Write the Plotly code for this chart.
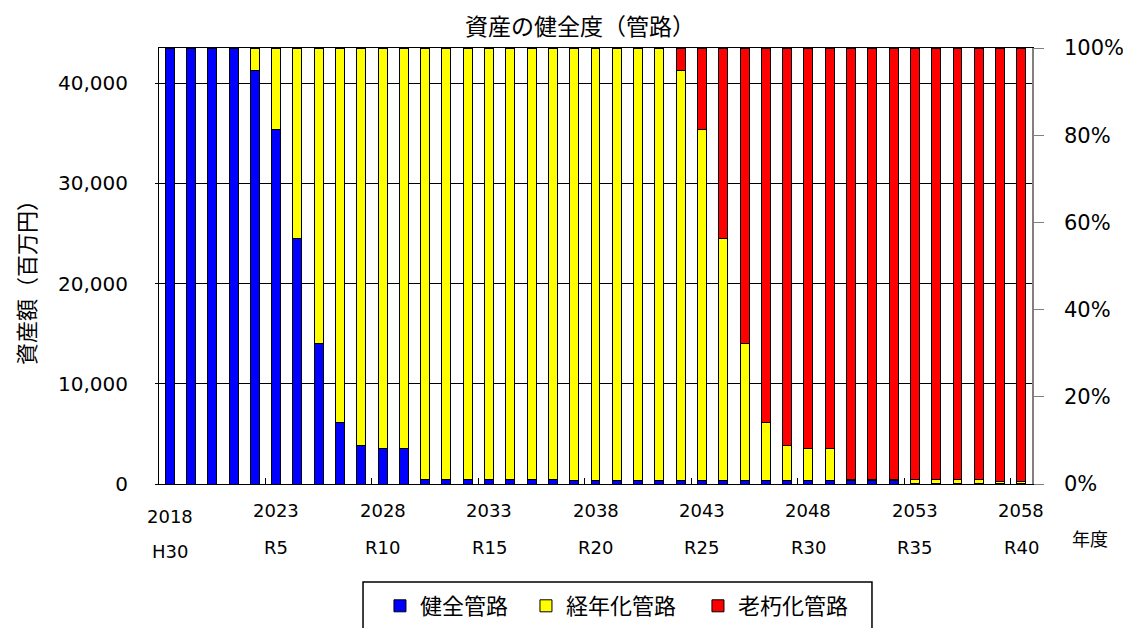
import plotly.graph_objects as go

years = list(range(2018, 2059))

healthy = [43500, 43500, 43500, 43500, 41300, 35400, 24500, 14000, 6100, 3850,
           3500, 3500, 450, 450, 450, 450, 450, 450, 450, 300,
           300, 300, 300, 300, 300, 300, 300, 300, 300, 300,
           300, 300, 350, 350, 350, 100, 100, 30, 30, 30, 30]

aged = [0, 0, 0, 0, 2200, 8100, 19000, 29500, 37400, 39650,
        40000, 40000, 43050, 43050, 43050, 43050, 43050, 43050, 43050, 43200,
        43200, 43200, 43200, 43200, 41000, 35100, 24200, 13700, 5800, 3550,
        3200, 3200, 50, 50, 50, 300, 300, 400, 400, 250, 250]

deteriorated = [0, 0, 0, 0, 0, 0, 0, 0, 0, 0,
                0, 0, 0, 0, 0, 0, 0, 0, 0, 0,
                0, 0, 0, 0, 2200, 8100, 19000, 29500, 37400, 39650,
                40000, 40000, 43100, 43100, 43100, 43100, 43100, 43070, 43070, 43220, 43220]

series_names = ["健全管路", "経年化管路", "老朽化管路"]
series_colors = ["#0000FF", "#FFFF00", "#FF0000"]
legend_widths = [101, 127, 125]

label_years = [2018, 2023, 2028, 2033, 2038, 2043, 2048, 2053, 2058]
era_labels = ["H30", "R5", "R10", "R15", "R20", "R25", "R30", "R35", "R40"]
boundary_ticks = [2022.5, 2027.5, 2032.5, 2037.5, 2042.5, 2047.5, 2052.5, 2057.5]

left_ticks = [0, 10000, 20000, 30000, 40000]
right_ticks = [0, 0.2, 0.4, 0.6, 0.8, 1.0]
y_max = 43500

NUM_FONT = "DejaVu Sans, Noto Sans CJK JP, sans-serif"
JP_FONT = "Noto Sans CJK JP, sans-serif"

# the page body has an 8px margin, so the figure is 8px smaller than the window
W, H = 1123, 620

fig = go.Figure()
for vals, name, col, lw in zip([healthy, aged, deteriorated], series_names, series_colors, legend_widths):
    fig.add_trace(go.Bar(
        x=years, y=vals, name=name, legendwidth=lw,
        marker=dict(color=col, line=dict(color="black", width=1)),
    ))
# empty helper trace so the percentage axis on the right is drawn
fig.add_trace(go.Scatter(x=[], y=[], yaxis="y2", showlegend=False, hoverinfo="skip"))

annotations = []
for yr, era in zip(label_years, era_labels):
    first = (yr == label_years[0])
    annotations.append(dict(x=yr, xref="x", y=-0.0734 if first else -0.0612, yref="paper",
                            text=str(yr), showarrow=False, xanchor="center", yanchor="middle",
                            font=dict(size=18, family=NUM_FONT, color="black")))
    annotations.append(dict(x=yr, xref="x", y=-0.1548 if first else -0.1456, yref="paper",
                            text=era, showarrow=False, xanchor="center", yanchor="middle",
                            font=dict(size=18, family=NUM_FONT, color="black")))

annotations.append(dict(x=1.0665, xref="paper", y=-0.1239, yref="paper", text="年度",
                        showarrow=False, xanchor="center", yanchor="middle",
                        font=dict(size=18, family=JP_FONT, color="black")))
annotations.append(dict(x=-0.1535, xref="paper", y=0.4748, yref="paper",
                        text="資産額（百万円）", textangle=-90, showarrow=False,
                        xanchor="center", yanchor="middle",
                        font=dict(size=22, family=JP_FONT, color="black")))

fig.update_layout(
    width=W, height=H,
    margin=dict(l=151, r=99, t=40, b=144, autoexpand=False),
    paper_bgcolor="white", plot_bgcolor="white",
    barmode="stack", bargap=0.58,
    font=dict(family=NUM_FONT, color="black", size=20),
    title=dict(text="資産の健全度（管路）", x=0.4822, xref="paper", xanchor="center",
               y=1 - 19 / H, yref="container", yanchor="middle",
               font=dict(size=23, family=JP_FONT, color="black")),
    xaxis=dict(range=[2017.5, 2058.5], tickmode="array", tickvals=boundary_ticks,
               ticks="inside", ticklen=6, tickcolor="black", showticklabels=False,
               showgrid=False, zeroline=False, showline=True, linecolor="black",
               linewidth=1, mirror=True, automargin=False),
    yaxis=dict(range=[0, y_max], tickmode="array", tickvals=left_ticks,
               tickformat=",", ticks="outside", ticklen=3, tickcolor="black",
               ticklabelstandoff=23, tickfont=dict(size=20, family=NUM_FONT),
               showgrid=True, gridcolor="black", gridwidth=1, zeroline=False,
               showline=True, linecolor="black", linewidth=1, automargin=False),
    yaxis2=dict(range=[0, 1], overlaying="y", side="right", tickmode="array",
                tickvals=right_ticks, tickformat=".0%", ticks="outside", ticklen=10,
                tickcolor="#808080", ticklabelstandoff=16, tickfont=dict(size=21, family=NUM_FONT),
                showgrid=False, zeroline=False, showline=True, linecolor="#808080",
                linewidth=1.5, automargin=False),
    legend=dict(orientation="h", x=0.2531, xanchor="left", xref="paper",
                y=1 - 577 / H, yref="container", yanchor="top",
                borderwidth=0, traceorder="normal",
                font=dict(size=22, family=JP_FONT, color="black"), bgcolor="rgba(0,0,0,0)"),
    shapes=[dict(type="rect", xref="paper", yref="paper", x0=0.2337, x1=0.8167,
                 y0=-0.2248, y1=-0.36, line=dict(color="black", width=1.5),
                 fillcolor="rgba(0,0,0,0)", layer="below")],
    annotations=annotations,
    showlegend=True,
)

fig.write_html("out.html")
